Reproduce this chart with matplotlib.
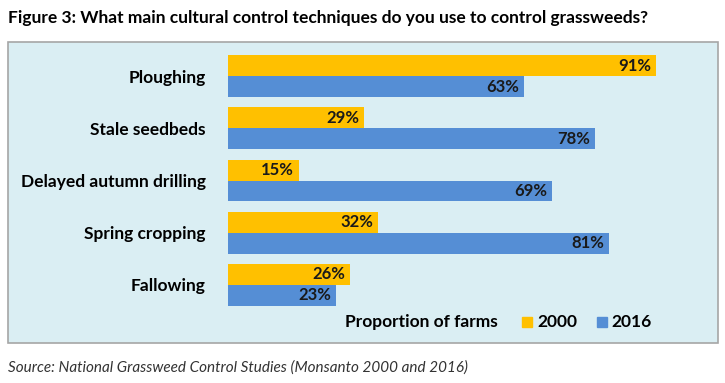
import matplotlib.pyplot as plt
from matplotlib.patches import Rectangle

categories = ["Ploughing", "Stale seedbeds", "Delayed autumn drilling", "Spring cropping", "Fallowing"]
y2000 = [91, 29, 15, 32, 26]
y2016 = [63, 78, 69, 81, 23]

c2000 = "#FFC000"
c2016 = "#558ED5"
font = "Lato"

fig = plt.figure(figsize=(7.25, 3.83), dpi=100)
W, H = 725, 383

# panel behind the chart
fig.patches.append(Rectangle((8 / W, (H - 343) / H), 710 / W, 301 / H, transform=fig.transFigure,
                             facecolor="#DAEEF3", edgecolor="#A6A6A6", linewidth=1.2, zorder=-10))

ax = fig.add_axes([228 / W, 72 / H, 470 / W, 261 / H])
ax.set_facecolor("none")
ax.set_zorder(5)
pos = list(range(len(categories)))
h = 0.4
ax.barh([p - h / 2 for p in pos], y2000, height=h, color=c2000)
ax.barh([p + h / 2 for p in pos], y2016, height=h, color=c2016)
for p, a, b in zip(pos, y2000, y2016):
    ax.text(a - 1, p - h / 2, f"{a}%", ha="right", va="center", fontsize=12, fontweight="bold",
            family=font, color="#1a1a1a")
    ax.text(b - 1, p + h / 2, f"{b}%", ha="right", va="center", fontsize=12, fontweight="bold",
            family=font, color="#1a1a1a")
ax.set_xlim(0, 100)
ax.set_ylim(len(categories) - 0.5, -0.5)
ax.set_yticks(pos)
ax.set_yticklabels(categories, fontsize=12.5, fontweight="bold", family=font)
ax.tick_params(axis="y", length=0, pad=16)
ax.set_xticks([])
for s in ax.spines.values():
    s.set_visible(False)

# title and source
fig.text(8 / W, 1 - 18 / H, "Figure 3: What main cultural control techniques do you use to control grassweeds?",
         fontsize=12.5, fontweight="bold", family=font, va="center", ha="left")
fig.text(8 / W, 1 - 368 / H, "Source: National Grassweed Control Studies (Monsanto 2000 and 2016)",
         fontsize=11, style="italic", family=font, va="center", ha="left", color="#333333")

# legend
ly = 1 - 322 / H
fig.text(345 / W, ly, "Proportion of farms", fontsize=12.5, fontweight="bold", family=font, va="center")
fig.patches.append(Rectangle((522 / W, ly - 5 / H), 10 / W, 10 / H, transform=fig.transFigure, color=c2000))
fig.text(537 / W, ly, "2000", fontsize=12.5, fontweight="bold", family=font, va="center")
fig.patches.append(Rectangle((597 / W, ly - 5 / H), 10 / W, 10 / H, transform=fig.transFigure, color=c2016))
fig.text(611 / W, ly, "2016", fontsize=12.5, fontweight="bold", family=font, va="center")

fig.savefig("out.png", dpi=100)
